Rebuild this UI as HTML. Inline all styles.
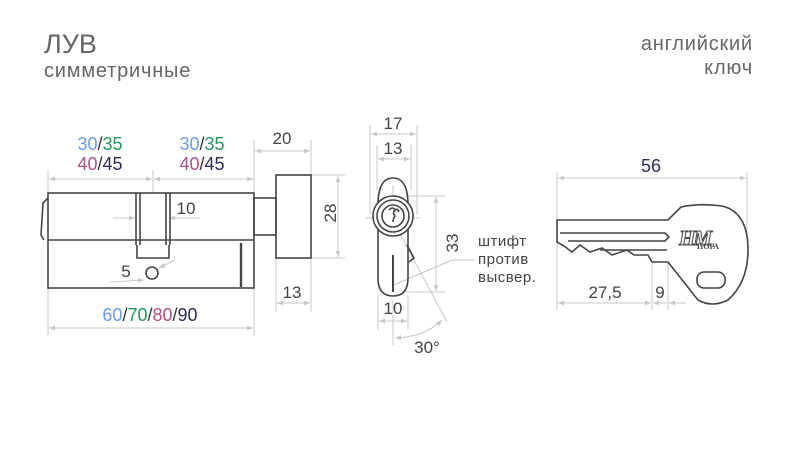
<!DOCTYPE html>
<html><head><meta charset="utf-8"><style>
html,body{margin:0;padding:0;background:#fff;}
svg{display:block;font-family:"Liberation Sans","DejaVu Sans",sans-serif;}
</style></head><body>
<svg width="800" height="451" viewBox="0 0 800 451" xmlns="http://www.w3.org/2000/svg">
<defs>
<marker id="a" viewBox="0 0 10 10" refX="10" refY="5" markerWidth="8" markerHeight="6" orient="auto-start-reverse"><path d="M0,1 L10,5 L0,9 z" fill="#c8c8c8"/></marker>
</defs>
<g fill="#666">
<text x="44" y="53" font-size="27">ЛУВ</text>
<text x="44" y="77" font-size="20" letter-spacing="0.8">симметричные</text>
<text x="753" y="50" font-size="20" text-anchor="end" letter-spacing="0.8">английский</text>
<text x="753" y="74" font-size="20" text-anchor="end" letter-spacing="0.8">ключ</text>
</g>
<g stroke="#c8c8c8" stroke-width="1" fill="none">
<line x1="48" y1="170" x2="48" y2="193"/><line x1="153" y1="170" x2="153" y2="193"/><line x1="254" y1="140" x2="254" y2="193"/>
<line x1="49" y1="179" x2="152" y2="179" marker-start="url(#a)" marker-end="url(#a)"/>
<line x1="154" y1="179" x2="253" y2="179" marker-start="url(#a)" marker-end="url(#a)"/>
<line x1="311" y1="140" x2="311" y2="175"/>
<line x1="255" y1="151" x2="310" y2="151" marker-start="url(#a)" marker-end="url(#a)"/>
<line x1="311" y1="175" x2="345" y2="175"/><line x1="311" y1="258" x2="345" y2="258"/>
<line x1="338" y1="176" x2="338" y2="257" marker-start="url(#a)" marker-end="url(#a)"/>
<line x1="276" y1="258" x2="276" y2="312"/><line x1="311" y1="258" x2="311" y2="312"/>
<line x1="277" y1="303" x2="310" y2="303" marker-start="url(#a)" marker-end="url(#a)"/>
<line x1="48" y1="288" x2="48" y2="335"/><line x1="254" y1="288" x2="254" y2="335"/>
<line x1="49" y1="328" x2="253" y2="328" marker-start="url(#a)" marker-end="url(#a)"/>
<line x1="113" y1="218" x2="135" y2="218" marker-end="url(#a)"/>
<line x1="200" y1="218" x2="169" y2="218" marker-end="url(#a)"/>
<line x1="110" y1="282" x2="144" y2="280" marker-end="url(#a)"/>
<line x1="175" y1="260" x2="159" y2="268" marker-end="url(#a)"/>
<line x1="370" y1="125" x2="370" y2="215"/><line x1="417" y1="125" x2="417" y2="215"/>
<line x1="371" y1="134" x2="416" y2="134" marker-start="url(#a)" marker-end="url(#a)"/>
<line x1="377" y1="145" x2="377" y2="190"/><line x1="411" y1="145" x2="411" y2="190"/>
<line x1="378" y1="159" x2="410" y2="159" marker-start="url(#a)" marker-end="url(#a)"/>
<line x1="378" y1="295" x2="378" y2="330"/><line x1="408" y1="295" x2="408" y2="330"/>
<line x1="379" y1="321" x2="407" y2="321" marker-start="url(#a)" marker-end="url(#a)"/>
<line x1="405" y1="196" x2="445" y2="196"/><line x1="405" y1="292" x2="445" y2="292"/>
<line x1="436" y1="197" x2="436" y2="291" marker-start="url(#a)" marker-end="url(#a)"/>
<line x1="365" y1="218" x2="420" y2="218"/><line x1="393" y1="185" x2="393" y2="230"/>
<line x1="397" y1="228" x2="447" y2="322"/>
<line x1="394" y1="285" x2="452" y2="260"/><line x1="452" y1="260" x2="475" y2="260"/>
<line x1="393" y1="300" x2="393" y2="345"/>
<path d="M395,338 Q425,337 442,320" marker-start="url(#a)" marker-end="url(#a)"/>
<line x1="557" y1="172" x2="557" y2="310"/><line x1="747" y1="172" x2="747" y2="235"/>
<line x1="558" y1="178" x2="746" y2="178" marker-start="url(#a)" marker-end="url(#a)"/>
<line x1="652" y1="262" x2="652" y2="310"/><line x1="668" y1="262" x2="668" y2="310"/>
<line x1="558" y1="303" x2="651" y2="303" marker-start="url(#a)" marker-end="url(#a)"/>
<line x1="653" y1="303" x2="667" y2="303" marker-start="url(#a)"/>
<line x1="686" y1="303" x2="669" y2="303" marker-end="url(#a)"/>
</g>
<g stroke="#444" stroke-width="1.6" fill="none">
<rect x="48" y="193" width="206" height="95"/>
<line x1="48" y1="240" x2="254" y2="240"/>
<path d="M48,198 L43,203 L41,235 L44,240"/>
<path d="M136,193 V245 M140,193 V245 M166,193 V245 M170,193 V245"/>
<path d="M137,245 V258 H169 V245"/>
<line x1="241" y1="243" x2="241" y2="287" stroke-width="2.4"/>
<circle cx="152" cy="273" r="6"/>
<rect x="254" y="198" width="22" height="37"/>
<rect x="276" y="175" width="35" height="83"/>
</g>
<g stroke="#444" stroke-width="1.6" fill="none">
<path d="M378,205 V278 Q378,296 393,296 Q408,296 408,278 V205"/>
<path d="M378,205 Q378,178 393,178 Q408,178 408,205"/>
<path d="M407,245 L414,258 L409,262"/>
<circle cx="393" cy="216" r="20" fill="#fff"/>
<circle cx="393" cy="216" r="16"/>
<circle cx="393" cy="216" r="11"/>
<path d="M389,210 q4,-4 6,0 q-3,3 0,6 q-2,3 -2,6 M395,210 q3,-2 4,2"/>
<line x1="393" y1="255" x2="393" y2="292" stroke-width="2"/>
</g>
<g stroke="#444" stroke-width="1.6" fill="none">
<path d="M557,220 H668 L681,207 Q700,203 722,206 Q748,212 748,250 Q748,282 728,300 Q712,308 698,300 L668,262 H652 L648,255 H634 L627,250 L612,255 L602,248 L590,252 L580,245 L572,252 L564,246 L557,242 Z"/>
<path d="M560,233 H665 L669,237 L665,241 H568"/>
<path d="M667,250 H600"/>
<rect x="697" y="272" width="28" height="16" rx="7"/>
</g>
<text x="679" y="245" font-size="21" font-weight="bold" font-style="italic" fill="#fff" stroke="#444" stroke-width="1" font-family="Liberation Serif,serif" letter-spacing="-2">НМ</text>
<text x="697" y="249" font-size="8" font-weight="bold" fill="#444" font-family="Liberation Serif,serif">ПОРА</text>
<g font-size="18" text-anchor="middle">
<text x="100" y="150"><tspan fill="#6b9cf0">30</tspan><tspan fill="#333">/</tspan><tspan fill="#1f9a5a">35</tspan></text>
<text x="100" y="170"><tspan fill="#b24f85">40</tspan><tspan fill="#333">/</tspan><tspan fill="#2b2d5a">45</tspan></text>
<text x="202" y="150"><tspan fill="#6b9cf0">30</tspan><tspan fill="#333">/</tspan><tspan fill="#1f9a5a">35</tspan></text>
<text x="202" y="170"><tspan fill="#b24f85">40</tspan><tspan fill="#333">/</tspan><tspan fill="#2b2d5a">45</tspan></text>
<text x="150" y="321"><tspan fill="#6b9cf0">60</tspan><tspan fill="#333">/</tspan><tspan fill="#1f9a5a">70</tspan><tspan fill="#333">/</tspan><tspan fill="#b24f85">80</tspan><tspan fill="#333">/</tspan><tspan fill="#2b2d5a">90</tspan></text>
<text x="651" y="172" fill="#2b2d5a">56</text>
</g>
<g font-size="17" fill="#444" text-anchor="middle">
<text x="282" y="144">20</text>
<text x="186" y="214">10</text>
<text x="126" y="277">5</text>
<text x="292" y="298">13</text>
<text x="330" y="213" transform="rotate(-90 330 213)" dy="6">28</text>
<text x="393" y="129">17</text>
<text x="393" y="154">13</text>
<text x="393" y="314">10</text>
<text x="452" y="243" transform="rotate(-90 452 243)" dy="6">33</text>
<text x="427" y="353">30°</text>
<text x="605" y="298">27,5</text>
<text x="660" y="298">9</text>
</g>
<g font-size="15" fill="#444" letter-spacing="0.5">
<text x="478" y="246">штифт</text>
<text x="478" y="264">против</text>
<text x="478" y="282">высвер.</text>
</g>
</svg>
</body></html>
